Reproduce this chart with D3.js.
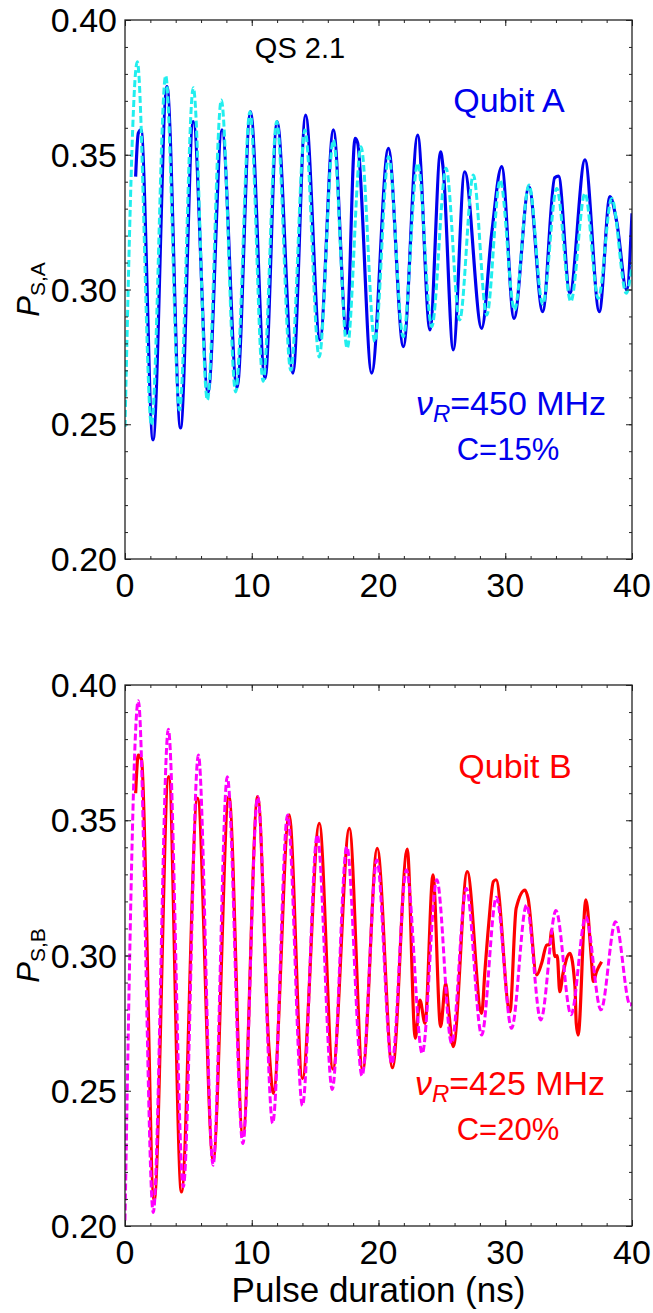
<!DOCTYPE html>
<html><head><meta charset="utf-8">
<script src="https://cdn.jsdelivr.net/npm/d3@7"></script>
<style>body{margin:0;background:#fff}svg{display:block}text{font-family:"Liberation Sans",Arial,sans-serif}</style>
</head><body>
<script>
// ---------- data ----------
const xTicks = [0, 10, 20, 30, 40];
const yTicks = [0.20, 0.25, 0.30, 0.35, 0.40];
const xMinor = d3.range(0, 40.01, 2);
const yMinor = d3.range(0.20, 0.4001, 0.01);

// Qubit A fit (dashed cyan): extrema
const fitA = [[0,0.249],[0.97,0.3845],[2.09,0.2497],[3.21,0.3793],[4.3,0.2553],[5.39,0.3749],[6.5,0.259],[7.6,0.3703],[8.73,0.262],[9.86,0.366],[10.9,0.266],[11.97,0.3623],[13.08,0.27],[14.2,0.3592],[15.32,0.275],[16.44,0.3555],[17.53,0.2782],[18.62,0.353],[19.71,0.2806],[20.8,0.3493],[21.95,0.2825],[23.09,0.3468],[24.2,0.2862],[25.33,0.345],[26.4,0.2887],[27.48,0.3425],[28.54,0.2905],[29.6,0.3406],[30.73,0.2924],[31.87,0.3388],[32.96,0.2945],[34.06,0.3375],[35.17,0.2955],[36.29,0.3357],[37.34,0.2967],[38.4,0.3338],[39.55,0.2986],[40,0.309]];
// Qubit A measured (solid blue)
const dataA = [[0.84,0.3419],[1.05,0.358],[1.26,0.3592],[2.21,0.2442],[3.31,0.3753],[4.38,0.2486],[5.39,0.3623],[6.55,0.2616],[7.65,0.3592],[8.84,0.2635],[9.9,0.366],[11.05,0.267],[12.0,0.3623],[13.25,0.269],[14.25,0.3647],[15.38,0.2813],[16.44,0.3592],[17.49,0.2837],[18.15,0.3561],[18.35,0.3545],[19.46,0.269],[20.78,0.3524],[21.96,0.2788],[23.09,0.3573],[24.06,0.285],[24.9,0.3511],[25.1,0.345],[25.9,0.2776],[26.8,0.3437],[28.14,0.2856],[28.93,0.3208],[29.72,0.3456],[30.69,0.2893],[31.87,0.3381],[32.95,0.2918],[33.9,0.3415],[34.2,0.3421],[35.1,0.2986],[36.29,0.3481],[37.42,0.2918],[38.26,0.3345],[38.79,0.3252],[39.58,0.2998],[40,0.3283]];
// Qubit B fit (dashed magenta)
const fitB = [[0,0.202],[1.05,0.3942],[2.23,0.205],[3.42,0.3836],[4.6,0.2145],[5.79,0.3741],[6.95,0.2225],[8.07,0.3661],[9.3,0.2305],[10.47,0.3587],[11.65,0.238],[12.83,0.3519],[14.0,0.2445],[15.17,0.3446],[16.35,0.2505],[17.5,0.3402],[18.7,0.2555],[19.87,0.3353],[21.05,0.26],[22.2,0.3316],[23.45,0.2638],[24.6,0.328],[25.77,0.2675],[26.93,0.3248],[28.14,0.2706],[29.3,0.3215],[30.5,0.2731],[31.68,0.3187],[32.8,0.2762],[34.0,0.3166],[35.19,0.2781],[36.35,0.3143],[37.55,0.2799],[38.7,0.3125],[39.85,0.2817],[40,0.2825]];
// Qubit B measured (solid red)
const dataB = [[0.84,0.36],[1.05,0.3741],[1.3,0.3725],[2.3,0.2095],[3.45,0.3661],[4.45,0.2126],[5.72,0.3581],[6.95,0.2245],[8.2,0.3587],[9.3,0.2335],[10.47,0.3587],[11.35,0.2663],[11.7,0.249],[12.95,0.352],[14.0,0.2545],[15.33,0.3489],[16.4,0.258],[17.7,0.347],[18.75,0.2575],[19.9,0.3396],[21.1,0.2585],[22.27,0.3393],[22.9,0.2694],[23.27,0.2835],[23.67,0.2749],[24.3,0.3298],[24.9,0.2737],[25.3,0.2897],[25.55,0.279],[25.9,0.2663],[27.0,0.331],[28.14,0.2786],[28.4,0.2946],[28.7,0.3119],[29.06,0.3273],[29.27,0.328],[30.37,0.2792],[30.86,0.3174],[31.56,0.3242],[31.8,0.3211],[32.48,0.2928],[32.87,0.2971],[33.27,0.3039],[33.5,0.304],[33.66,0.3094],[33.92,0.2996],[34.1,0.3],[34.3,0.2866],[34.56,0.2934],[35.1,0.3008],[35.5,0.2885],[35.6,0.275],[35.75,0.2706],[36.36,0.3206],[36.8,0.2984],[36.94,0.2904],[37.2,0.294],[37.6,0.2977]];

const panels = [
  {top:20, bottom:559, fit:fitA, data:dataA, dataColor:"#0000ee", fitColor:"#22eeee", sub:"S,A",
   title:"QS 2.1", qubit:"Qubit A", freq:"450", contrast:"C=15%",
   txt:{qs:[300,58], qubit:[509,112], freq:[511,415], c:[508,460]}},
  {top:685, bottom:1226, fit:fitB, data:dataB, dataColor:"#ff0000", fitColor:"#ff00ff", sub:"S,B",
   title:null, qubit:"Qubit B", freq:"425", contrast:"C=20%",
   txt:{qubit:[515,778], freq:[510,1095], c:[508,1140]}}
];

const W = 653, H = 1313, L = 125, R = 632;
const svg = d3.select("body").append("svg").attr("width", W).attr("height", H);
const x = d3.scaleLinear().domain([0, 40]).range([L, R]);
const fs = 34;

panels.forEach((p, i) => {
  const y = d3.scaleLinear().domain([0.20, 0.40]).range([p.bottom, p.top]);
  const g = svg.append("g");
  const clipId = "clip" + i;
  svg.append("clipPath").attr("id", clipId).append("rect")
    .attr("x", L).attr("y", p.top).attr("width", R - L).attr("height", p.bottom - p.top);

  const line = d3.line().x(d => x(d[0])).y(d => y(d[1])).curve(d3.curveMonotoneX);
  const plot = g.append("g").attr("clip-path", `url(#${clipId})`);
  plot.append("path").datum(p.data).attr("d", line).attr("fill", "none")
    .attr("stroke", p.dataColor).attr("stroke-width", 3.2).attr("stroke-linejoin", "round");
  plot.append("path").datum(p.fit).attr("d", line).attr("fill", "none")
    .attr("stroke", p.fitColor).attr("stroke-width", 3).attr("stroke-dasharray", "7,3");

  // axes (ticks inward on all sides)
  const mk = (axisFn, scale, vals, size, pos, isX) => {
    const a = axisFn(scale).tickValues(vals).tickSize(size).tickFormat("");
    const ag = g.append("g").attr("transform", isX ? `translate(0,${pos})` : `translate(${pos},0)`).call(a);
    ag.select(".domain").remove();
    ag.selectAll("line").attr("stroke", "#222").attr("stroke-width", 1);
  };
  [[d3.axisBottom, p.bottom], [d3.axisTop, p.top]].forEach(([fn, pos]) => {
    mk(fn, x, xTicks, -6, pos, true);
    mk(fn, x, xMinor, -3, pos, true);
  });
  [[d3.axisLeft, L], [d3.axisRight, R]].forEach(([fn, pos]) => {
    mk(fn, y, yTicks, -6, pos, false);
    mk(fn, y, yMinor, -3, pos, false);
  });
  g.append("rect").attr("x", L).attr("y", p.top).attr("width", R - L).attr("height", p.bottom - p.top)
    .attr("fill", "none").attr("stroke", "#222").attr("stroke-width", 1.3);

  // tick labels
  g.selectAll(".yl").data(yTicks).join("text").attr("x", L - 8).attr("y", d => y(d) + 12)
    .attr("text-anchor", "end").attr("font-size", fs).text(d => d3.format(".2f")(d));
  g.selectAll(".xl").data(xTicks).join("text").attr("x", d => x(d)).attr("y", p.bottom + 38)
    .attr("text-anchor", "middle").attr("font-size", fs).text(d => d);

  // y label
  const yl = g.append("text").attr("transform", `translate(39,${(p.top + p.bottom) / 2}) rotate(-90)`)
    .attr("text-anchor", "middle").attr("font-size", 31);
  yl.append("tspan").attr("font-style", "italic").text("P");
  yl.append("tspan").attr("font-size", 21).attr("dy", 6).text(p.sub);

  // annotations
  if (p.title) g.append("text").attr("x", p.txt.qs[0]).attr("y", p.txt.qs[1]).attr("text-anchor", "middle")
    .attr("font-size", 29).attr("fill", "#000").text(p.title);
  g.append("text").attr("x", p.txt.qubit[0]).attr("y", p.txt.qubit[1]).attr("text-anchor", "middle")
    .attr("font-size", 34).attr("fill", p.dataColor).text(p.qubit);
  const ft = g.append("text").attr("x", p.txt.freq[0]).attr("y", p.txt.freq[1]).attr("text-anchor", "middle")
    .attr("font-size", 34).attr("fill", p.dataColor);
  ft.append("tspan").attr("font-style", "italic").text("ν");
  ft.append("tspan").attr("font-style", "italic").attr("font-size", 24).attr("dy", 7).text("R");
  ft.append("tspan").attr("dy", -7).text("=" + p.freq + " MHz");
  g.append("text").attr("x", p.txt.c[0]).attr("y", p.txt.c[1]).attr("text-anchor", "middle")
    .attr("font-size", 31).attr("fill", p.dataColor).text(p.contrast);
});

svg.append("text").attr("x", (L + R) / 2).attr("y", 1302).attr("text-anchor", "middle")
  .attr("font-size", 35).text("Pulse duration (ns)");
</script>
</body></html>
